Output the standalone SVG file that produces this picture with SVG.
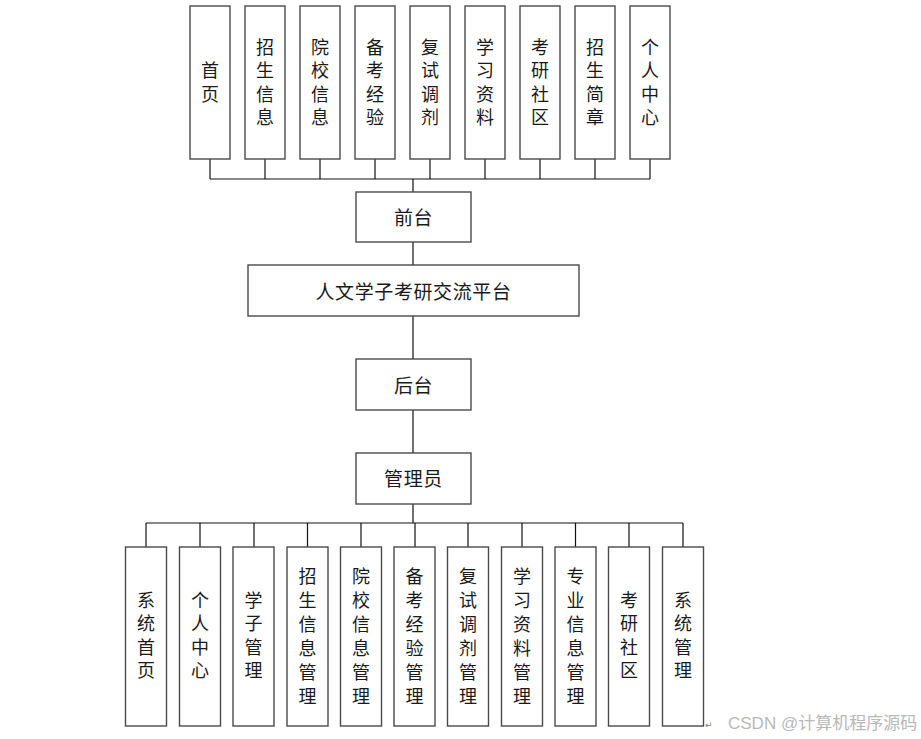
<svg xmlns="http://www.w3.org/2000/svg" width="921" height="739" viewBox="0 0 921 739">
<style>
.box{fill:#fff;stroke:#4a4a4a;stroke-width:1.4}
.t{font-family:"Noto Sans CJK SC","Liberation Sans",sans-serif;font-size:18px;fill:#1a1a1a;text-anchor:middle;dominant-baseline:central}
.h{font-size:19px;letter-spacing:0.6px}
.ln{stroke:#111;stroke-width:1.2;fill:none}
.wm{font-family:"Liberation Sans","Noto Sans CJK SC",sans-serif;font-size:17px;fill:#b8b8b8}
</style>
<rect width="921" height="739" fill="#fff"/>
<g id="connectors">
<path class="ln" d="M210 159V179M265 159V179M320 159V179M375 159V179M430 159V179M485 159V179M540 159V179M595 159V179M650 159V179M210 179H650M413 179V192"/>
<path class="ln" d="M413 242V265M413 316V359M413 410V453M413 504V523"/>
<path class="ln" d="M146 523H683M146 523V547M200 523V547M254 523V547M307.5 523V547M361 523V547M415 523V547M468 523V547M522 523V547M575.5 523V547M629 523V547M683 523V547"/>
</g>
<g transform="translate(0,-1.5)">
<g id="n-shouye"><rect class="box" x="190" y="7.5" width="40" height="153"/><text class="t" x="210"><tspan x="210" y="70.5">首</tspan><tspan x="210" y="94">页</tspan></text></g>
<g id="n-zhaosheng"><rect class="box" x="245" y="7.5" width="40" height="153"/><text class="t"><tspan x="265" y="47">招</tspan><tspan x="265" y="70.5">生</tspan><tspan x="265" y="94">信</tspan><tspan x="265" y="117.5">息</tspan></text></g>
<g id="n-yuanxiao"><rect class="box" x="300" y="7.5" width="40" height="153"/><text class="t"><tspan x="320" y="47">院</tspan><tspan x="320" y="70.5">校</tspan><tspan x="320" y="94">信</tspan><tspan x="320" y="117.5">息</tspan></text></g>
<g id="n-beikao"><rect class="box" x="355" y="7.5" width="40" height="153"/><text class="t"><tspan x="375" y="47">备</tspan><tspan x="375" y="70.5">考</tspan><tspan x="375" y="94">经</tspan><tspan x="375" y="117.5">验</tspan></text></g>
<g id="n-fushi"><rect class="box" x="410" y="7.5" width="40" height="153"/><text class="t"><tspan x="430" y="47">复</tspan><tspan x="430" y="70.5">试</tspan><tspan x="430" y="94">调</tspan><tspan x="430" y="117.5">剂</tspan></text></g>
<g id="n-xuexi"><rect class="box" x="465" y="7.5" width="40" height="153"/><text class="t"><tspan x="485" y="47">学</tspan><tspan x="485" y="70.5">习</tspan><tspan x="485" y="94">资</tspan><tspan x="485" y="117.5">料</tspan></text></g>
<g id="n-kaoyan"><rect class="box" x="520" y="7.5" width="40" height="153"/><text class="t"><tspan x="540" y="47">考</tspan><tspan x="540" y="70.5">研</tspan><tspan x="540" y="94">社</tspan><tspan x="540" y="117.5">区</tspan></text></g>
<g id="n-jianzhang"><rect class="box" x="575" y="7.5" width="40" height="153"/><text class="t"><tspan x="595" y="47">招</tspan><tspan x="595" y="70.5">生</tspan><tspan x="595" y="94">简</tspan><tspan x="595" y="117.5">章</tspan></text></g>
<g id="n-geren"><rect class="box" x="630" y="7.5" width="40" height="153"/><text class="t"><tspan x="650" y="47">个</tspan><tspan x="650" y="70.5">人</tspan><tspan x="650" y="94">中</tspan><tspan x="650" y="117.5">心</tspan></text></g>
<g id="n-qiantai"><rect class="box" x="356" y="193.5" width="115" height="50"/><text class="t h" x="413.5" y="218">前台</text></g>
<g id="n-platform"><rect class="box" x="248" y="266.5" width="331" height="51"/><text class="t h" x="413.5" y="291.5">人文学子考研交流平台</text></g>
<g id="n-houtai"><rect class="box" x="356" y="360.5" width="115" height="51"/><text class="t h" x="413.5" y="385.5">后台</text></g>
<g id="n-admin"><rect class="box" x="356" y="454.5" width="115" height="51"/><text class="t h" x="413.5" y="478.5">管理员</text></g>
<g id="b-xitongshouye"><rect class="box" x="125.5" y="548.5" width="41" height="179"/><text class="t"><tspan x="146" y="600">系</tspan><tspan x="146" y="623.5">统</tspan><tspan x="146" y="647">首</tspan><tspan x="146" y="670.5">页</tspan></text></g>
<g id="b-geren"><rect class="box" x="179.5" y="548.5" width="41" height="179"/><text class="t"><tspan x="200" y="600">个</tspan><tspan x="200" y="623.5">人</tspan><tspan x="200" y="647">中</tspan><tspan x="200" y="670.5">心</tspan></text></g>
<g id="b-xuezi"><rect class="box" x="233" y="548.5" width="41" height="179"/><text class="t"><tspan x="253.5" y="600">学</tspan><tspan x="253.5" y="623.5">子</tspan><tspan x="253.5" y="647">管</tspan><tspan x="253.5" y="670.5">理</tspan></text></g>
<g id="b-zhaosheng"><rect class="box" x="287" y="548.5" width="41" height="179"/><text class="t"><tspan x="307.5" y="576">招</tspan><tspan x="307.5" y="600">生</tspan><tspan x="307.5" y="624">信</tspan><tspan x="307.5" y="648">息</tspan><tspan x="307.5" y="672">管</tspan><tspan x="307.5" y="696">理</tspan></text></g>
<g id="b-yuanxiao"><rect class="box" x="340.5" y="548.5" width="41" height="179"/><text class="t"><tspan x="361" y="576">院</tspan><tspan x="361" y="600">校</tspan><tspan x="361" y="624">信</tspan><tspan x="361" y="648">息</tspan><tspan x="361" y="672">管</tspan><tspan x="361" y="696">理</tspan></text></g>
<g id="b-beikao"><rect class="box" x="394" y="548.5" width="41" height="179"/><text class="t"><tspan x="414.5" y="576">备</tspan><tspan x="414.5" y="600">考</tspan><tspan x="414.5" y="624">经</tspan><tspan x="414.5" y="648">验</tspan><tspan x="414.5" y="672">管</tspan><tspan x="414.5" y="696">理</tspan></text></g>
<g id="b-fushi"><rect class="box" x="447.5" y="548.5" width="41" height="179"/><text class="t"><tspan x="468" y="576">复</tspan><tspan x="468" y="600">试</tspan><tspan x="468" y="624">调</tspan><tspan x="468" y="648">剂</tspan><tspan x="468" y="672">管</tspan><tspan x="468" y="696">理</tspan></text></g>
<g id="b-xuexi"><rect class="box" x="501.5" y="548.5" width="41" height="179"/><text class="t"><tspan x="522" y="576">学</tspan><tspan x="522" y="600">习</tspan><tspan x="522" y="624">资</tspan><tspan x="522" y="648">料</tspan><tspan x="522" y="672">管</tspan><tspan x="522" y="696">理</tspan></text></g>
<g id="b-zhuanye"><rect class="box" x="555" y="548.5" width="41" height="179"/><text class="t"><tspan x="575.5" y="576">专</tspan><tspan x="575.5" y="600">业</tspan><tspan x="575.5" y="624">信</tspan><tspan x="575.5" y="648">息</tspan><tspan x="575.5" y="672">管</tspan><tspan x="575.5" y="696">理</tspan></text></g>
<g id="b-kaoyan"><rect class="box" x="608.5" y="548.5" width="41" height="179"/><text class="t"><tspan x="629" y="600">考</tspan><tspan x="629" y="623.5">研</tspan><tspan x="629" y="647">社</tspan><tspan x="629" y="670.5">区</tspan></text></g>
<g id="b-xitong"><rect class="box" x="662.5" y="548.5" width="41" height="179"/><text class="t"><tspan x="683" y="600">系</tspan><tspan x="683" y="623.5">统</tspan><tspan x="683" y="647">管</tspan><tspan x="683" y="670.5">理</tspan></text></g>
</g>
<text x="705" y="728" style="font-family:'DejaVu Sans',sans-serif;font-size:9px;fill:#777">↵</text>
<text class="wm" x="728" y="729">CSDN @计算机程序源码</text>
</svg>
